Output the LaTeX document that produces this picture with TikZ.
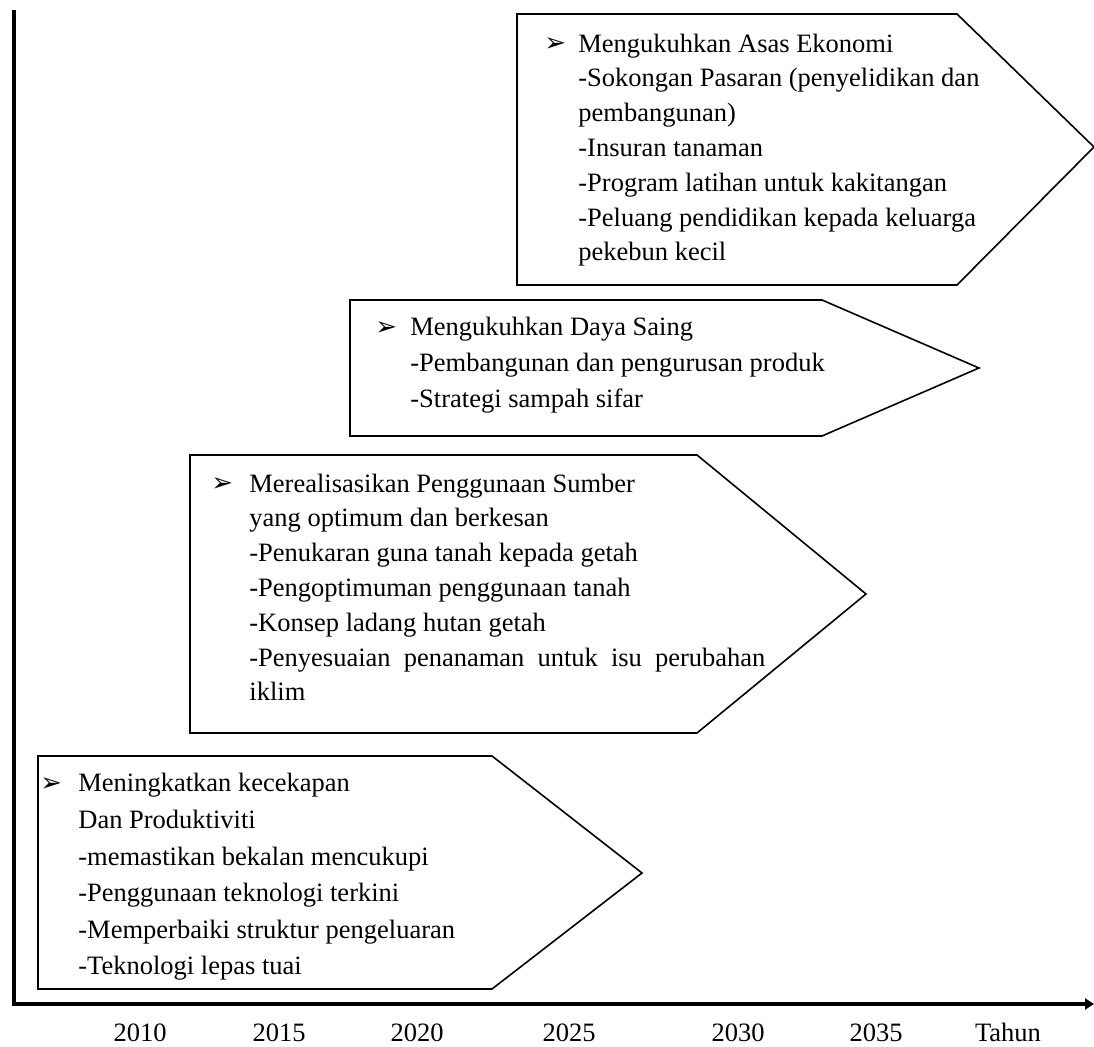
\documentclass[tikz,border=0pt]{standalone}
\usepackage{fontspec}
\setmainfont{Liberation Serif}
\newfontfamily\symfont{DejaVu Sans}
\usetikzlibrary{arrows.meta}

\begin{document}
\begin{tikzpicture}[x=0.5pt,y=-0.5pt,
        stage/.style={draw,line width=0.8pt,line join=miter},
        bul/.style={anchor=base west,inner sep=0pt,font=\symfont\fontsize{13}{13}\selectfont},
        txt/.style={anchor=base west,inner sep=0pt,align=left,font=\fontsize{13.25}{17.4}\selectfont},
        yr/.style={anchor=base,inner sep=0pt,font=\fontsize{13.25}{16}\selectfont}]
        \useasboundingbox (0,0) rectangle (1094,1047);

        \draw[stage] (517,14) -- (957,14) -- (1094,147) -- (957,285) -- (517,285) -- cycle;
        \draw[stage] (350,300) -- (822,300) -- (979,368) -- (822,436) -- (350,436) -- cycle;
        \draw[stage] (190,455) -- (697,455) -- (866,594) -- (697,733) -- (190,733) -- cycle;
        \draw[stage] (38,756) -- (492,756) -- (642,873) -- (492,989) -- (38,989) -- cycle;

        % multi-line nodes sit on the baseline of their last line
        \node[bul] at (544,52) (b-4) {➢};
        \node[txt] at (578,261) (t-4) {Mengukuhkan Asas Ekonomi\\
                -Sokongan Pasaran (penyelidikan dan\\
                pembangunan)\\
                -Insuran tanaman\\
                -Program latihan untuk kakitangan\\
                -Peluang pendidikan kepada keluarga\\
                pekebun kecil};

        \node[bul] at (375,336) (b-3) {➢};
        \node[txt,font=\fontsize{13.25}{18}\selectfont] at (410,408) (t-3) {Mengukuhkan Daya Saing\\
                -Pembangunan dan pengurusan produk\\
                -Strategi sampah sifar};

        \node[bul] at (211,492) (b-2) {➢};
        \node[txt] at (249,701) (t-2) {Merealisasikan Penggunaan Sumber\\
                yang optimum dan berkesan\\
                -Penukaran guna tanah kepada getah\\
                -Pengoptimuman penggunaan tanah\\
                -Konsep ladang hutan getah\\
                \makebox[258pt][s]{-Penyesuaian penanaman untuk isu perubahan}\\
                iklim};

        \node[bul] at (40,792) (b-1) {➢};
        \node[txt,font=\fontsize{13.25}{18.3}\selectfont] at (78,975) (t-1) {Meningkatkan kecekapan\\
                Dan Produktiviti\\
                -memastikan bekalan mencukupi\\
                -Penggunaan teknologi terkini\\
                -Memperbaiki struktur pengeluaran\\
                -Teknologi lepas tuai};

        \coordinate (o) at (14,1004);
        \coordinate (ytop) at (14,10);
        \coordinate (xend) at (1094,1004);
        \draw[line width=1.6pt,-{Triangle[length=4.5pt,width=5.5pt]}] (ytop) -- (o) -- (xend);

        \node[yr] at (140,1042) (y-2010) {2010};
        \node[yr] at (279,1042) (y-2015) {2015};
        \node[yr] at (417,1042) (y-2020) {2020};
        \node[yr] at (569,1042) (y-2025) {2025};
        \node[yr] at (738,1042) (y-2030) {2030};
        \node[yr] at (876,1042) (y-2035) {2035};
        \node[yr] at (1008,1042) (y-tahun) {Tahun};
    \end{tikzpicture}
\end{document}
